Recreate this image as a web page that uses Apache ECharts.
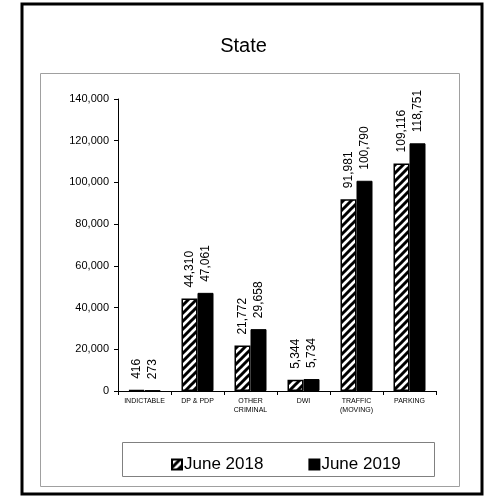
<!DOCTYPE html>
<html><head><meta charset="utf-8">
<script src="https://cdn.jsdelivr.net/npm/echarts@6/dist/echarts.min.js"></script>
<style>html,body{margin:0;padding:0;background:#fff}#c{width:487px;height:498px}</style>
</head><body><div id="c"></div>
<script>
var categories = ['INDICTABLE', 'DP & PDP', 'OTHER\nCRIMINAL', 'DWI', 'TRAFFIC\n(MOVING)', 'PARKING'];
var june2018 = [416, 44310, 21772, 5344, 91981, 109116];
var june2019 = [273, 47061, 29658, 5734, 100790, 118751];
var seriesNames = ['June 2018', 'June 2019'];
var yTicks = [0, 20000, 40000, 60000, 80000, 100000, 120000, 140000];

function hatch() {
  var s = 8;
  var c = document.createElement('canvas');
  c.width = s; c.height = s;
  var g = c.getContext('2d');
  g.fillStyle = '#fff'; g.fillRect(0, 0, s, s);
  g.strokeStyle = '#000'; g.lineWidth = 3;
  g.beginPath();
  g.moveTo(-s / 2, s / 2); g.lineTo(s / 2, -s / 2);
  g.moveTo(0, s); g.lineTo(s, 0);
  g.moveTo(s / 2, s * 1.5); g.lineTo(s * 1.5, s / 2);
  g.stroke();
  return c;
}
var pat = { image: hatch(), repeat: 'repeat' };
var fmt = function (v) { return v.toLocaleString('en-US'); };
var font = 'Liberation Sans, Arial, sans-serif';

var chart = echarts.init(document.getElementById('c'), null, { renderer: 'canvas' });
chart.setOption({
  animation: false,
  textStyle: { fontFamily: font, color: '#000' },
  title: { text: 'State', left: 'center', top: 31, textStyle: { fontFamily: font, fontSize: 20, fontWeight: 'normal', color: '#000' } },
  graphic: [
    { type: 'rect', shape: { x: 22, y: 4, width: 460, height: 490 }, style: { fill: 'none', stroke: '#000', lineWidth: 3 }, silent: true },
    { type: 'rect', shape: { x: 40.5, y: 73.5, width: 419, height: 413 }, style: { fill: 'none', stroke: '#a0a0a0', lineWidth: 1 }, silent: true },
    { type: 'rect', shape: { x: 122.5, y: 442.5, width: 312, height: 34 }, style: { fill: 'none', stroke: '#808080', lineWidth: 1 }, silent: true }
  ],
  legend: {
    data: seriesNames, left: 166, top: 451, itemGap: 45, itemWidth: 10, itemHeight: 10,
    icon: 'rect',
    textStyle: { fontFamily: font, fontSize: 17, color: '#000', padding: [0, 0, 0, -3] }
  },
  grid: { left: 118, right: 51, top: 99, bottom: 107, containLabel: false },
  xAxis: {
    type: 'category', data: categories,
    axisLine: { lineStyle: { color: '#000', width: 1 } },
    axisTick: { show: true, length: 4, lineStyle: { color: '#000' } },
    axisLabel: { fontFamily: font, fontSize: 7, color: '#000', interval: 0, margin: 6, lineHeight: 9 }
  },
  yAxis: {
    type: 'value', min: 0, max: 140000, interval: 20000,
    axisLine: { show: true, lineStyle: { color: '#000', width: 1 } },
    axisTick: { show: true, length: 4, lineStyle: { color: '#000' } },
    splitLine: { show: false },
    axisLabel: { fontFamily: font, fontSize: 11, color: '#000', margin: 9, formatter: function (v) { return fmt(v); } }
  },
  series: [
    {
      name: seriesNames[0], type: 'bar', data: june2018, barWidth: 16, barGap: '0%',
      itemStyle: { color: pat, borderColor: '#000', borderWidth: 1.5 },
      label: { show: true, position: 'top', rotate: 90, align: 'left', verticalAlign: 'middle', distance: 11, fontFamily: font, fontSize: 12, color: '#000', formatter: function (p) { return fmt(p.value); } }
    },
    {
      name: seriesNames[1], type: 'bar', data: june2019, barWidth: 16,
      itemStyle: { color: '#000', borderColor: '#000', borderWidth: 1 },
      label: { show: true, position: 'top', rotate: 90, align: 'left', verticalAlign: 'middle', distance: 11, fontFamily: font, fontSize: 12, color: '#000', formatter: function (p) { return fmt(p.value); } }
    }
  ]
});
</script></body></html>
